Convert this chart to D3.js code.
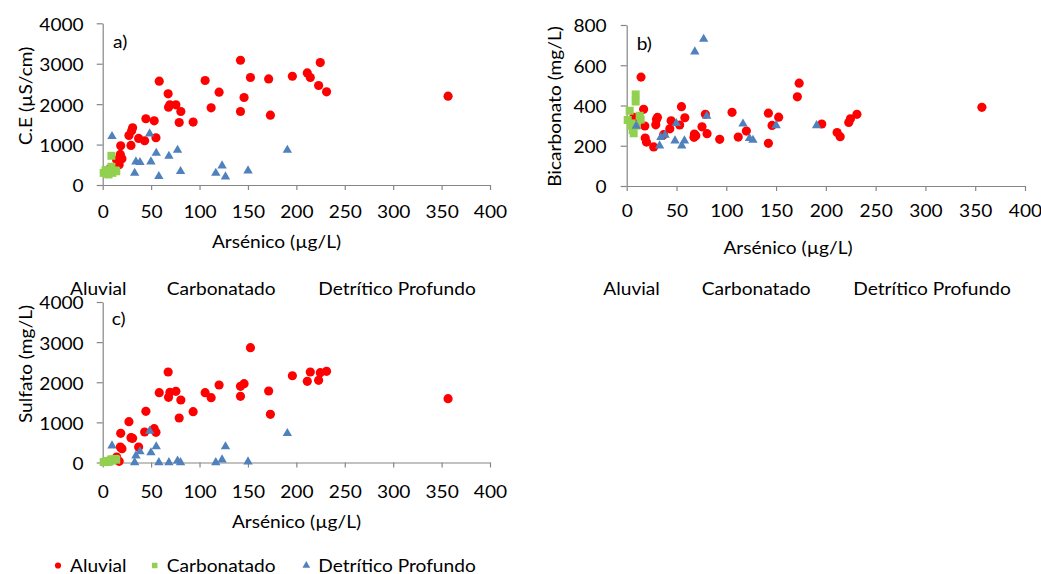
<!DOCTYPE html>
<html>
<head>
<meta charset="utf-8">
<script src="https://cdn.jsdelivr.net/npm/d3@7"></script>
<style>
  body { margin: 0; background: #fff; }
  svg { display: block; }
  text { font-family: Lato, "Open Sans", sans-serif; fill: #000; }
</style>
</head>
<body>
<svg id="chart" width="1041" height="574"></svg>
<script>
// ---- tick labels ----
const arsenicTicks = [0, 50, 100, 150, 200, 250, 300, 350, 400];
const ceTicks = [0, 1000, 2000, 3000, 4000];
const bicarbTicks = [0, 200, 400, 600, 800];
const sulfateTicks = [0, 1000, 2000, 3000, 4000];
const seriesNames = ["Aluvial", "Carbonatado", "Detrítico Profundo"];

// ---- Aluvial wells: arsenic (µg/L), conductivity (µS/cm), bicarbonate and sulfate (mg/L) ----
const aluvialAs   = [7, 14.4, 17, 18.2, 18.6, 19.9, 27.1, 29.2, 29.9, 30.9, 37.1, 43.3, 44.6, 53.2, 55, 58.4, 67.6, 68, 69.4, 75.6, 79, 80.7, 93.4, 105.8, 112, 120.2, 142.3, 142.3, 146, 152.6, 171.4, 173.2, 195.9, 211.3, 214.4, 223, 224.7, 231.2, 356.7];
const aluvialCE   = [395, 617, 502, 757, 971, 650, 1226, 979, 1341, 1416, 1152, 1095, 1638, 1588, 1169, 2568, 2255, 1926, 1983, 1983, 1547, 1819, 1556, 2585, 1909, 2296, 3086, 1819, 2165, 2659, 2625, 1728, 2691, 2773, 2659, 2461, 3029, 2304, 2198];
const aluvialHCO3 = [341, 541, 381, 298, 238, 218, 194, 304, 331, 341, 255, 284, 324, 303, 394, 339, 242, 258, 250, 294, 356, 260, 232, 366, 243, 273, 362, 212, 301, 342, 443, 511, 308, 266, 245, 316, 334, 356, 391];
const aluvialSO4  = [40, 137, 30, 386, 727, 344, 1017, 618, 610, 602, 386, 760, 1275, 843, 752, 1740, 2255, 1624, 1748, 1773, 1109, 1557, 1267, 1740, 1616, 1931, 1898, 1649, 1964, 2861, 1781, 1200, 2163, 2023, 2255, 2048, 2238, 2272, 1590];

// ---- Carbonatado wells ----
const carbAs   = [1, 3, 4, 5, 6, 7, 9, 9, 10, 13, 14];
const carbCE   = [300, 370, 280, 330, 260, 350, 723, 452, 300, 360, 340];
const carbHCO3 = [328, 374, 300, 311, 278, 262, 455, 420, 300, 349, 330];
const carbSO4  = [10, 20, 30, 15, 40, 25, 80, 60, 50, 90, 70];

// ---- Detrítico Profundo wells ----
const detAs   = [9.6, 33, 34.3, 38.5, 48.5, 49.8, 55.3, 58, 68.4, 77.3, 80.4, 116.8, 123.3, 126.8, 150.1, 190.7];
const detCE   = [1202, 296, 575, 560, 1267, 575, 790, 214, 716, 864, 338, 296, 477, 206, 354, 864];
const detHCO3 = [298, 200, 242, 253, 225, 311, 200, 225, 667, 730, 347, 309, 237, 228, 301, 301];
const detSO4  = [419, 0, 170, 270, 785, 245, 395, 0, 0, 40, 0, 0, 70, 395, 20, 726];

// ---- styling ----
const FS = 16.5;          // font size
const SX = 1.16;          // horizontal widening of the glyphs
const AXIS = "#868686";
const colors = ["#FF0000", "#92D050", "#4F81BD"];
const symbols = [d3.symbolCircle, d3.symbolSquare, d3.symbolTriangle];
const symbolSizes = [66, 64, 38];

const svg = d3.select("#chart");
svg.append("rect").attr("width", 1041).attr("height", 574).attr("fill", "#fff");

function label(parent, x, y, str, anchor = "start", rotate = 0) {
  return parent.append("text")
    .attr("transform", `translate(${x},${y}) rotate(${rotate}) scale(${SX},1)`)
    .attr("text-anchor", anchor)
    .style("font-size", FS + "px")
    .text(str);
}

function zip(xs, ys) { return xs.map((x, i) => ({ x, y: ys[i] })); }

function drawPanel(cfg) {
  const g = svg.append("g");
  const x = d3.scaleLinear().domain([0, 400]).range([cfg.left, cfg.right]);
  const y = d3.scaleLinear().domain([0, cfg.yMax]).range([cfg.bottom, cfg.top]);

  // axes
  const xa = g.append("g").attr("transform", `translate(0,${cfg.bottom})`)
    .call(d3.axisBottom(x).tickValues(arsenicTicks).tickSize(5).tickSizeOuter(0).tickFormat(d3.format("d")));
  const ya = g.append("g").attr("transform", `translate(${cfg.left},0)`)
    .call(d3.axisLeft(y).tickValues(cfg.yTicks).tickSize(6).tickSizeOuter(0).tickFormat(d3.format("d")));
  [xa, ya].forEach(a => {
    a.select(".domain").attr("stroke", AXIS).attr("stroke-width", 1.2);
    a.selectAll(".tick line").attr("stroke", AXIS).attr("stroke-width", 1.2);
    a.selectAll("text").attr("fill", "#000").style("font-size", FS + "px")
      .attr("font-family", "Lato, 'Open Sans', sans-serif");
  });
  xa.selectAll("text").attr("y", null).attr("dy", null)
    .attr("transform", `translate(0,${cfg.xLabelDy}) scale(${SX},1)`);
  ya.selectAll("text").attr("x", -cfg.yLabelGap / SX).attr("dy", "0.42em")
    .attr("transform", `scale(${SX},1)`);

  // series, drawn Aluvial first and Detrítico Profundo on top
  cfg.series.forEach((pts, si) => {
    g.append("g").selectAll("path").data(pts).join("path")
      .attr("transform", d => `translate(${x(d.x)},${y(d.y)})`)
      .attr("d", d3.symbol().type(symbols[si]).size(symbolSizes[si]))
      .attr("fill", colors[si]);
  });

  // panel letter
  label(g, cfg.tagX, cfg.tagY, cfg.tag);

  // axis titles
  label(g, cfg.xTitleX, cfg.xTitleY, "Arsénico (µg/L)", "middle");
  label(g, cfg.yTitleX, cfg.yTitleY, cfg.yTitle, "middle", -90);

  // legend
  cfg.legendX.forEach((lx, i) => {
    if (cfg.legendMarkers) {
      g.append("path")
        .attr("transform", `translate(${lx - 12},${cfg.legendY - 6})`)
        .attr("d", d3.symbol().type(symbols[i]).size(i === 2 ? 26 : 30))
        .attr("fill", colors[i]);
    }
    label(g, lx, cfg.legendY, seriesNames[i]);
  });
}

drawPanel({
  tag: "a)", tagX: 113, tagY: 48,
  left: 102.7, right: 490, top: 23.3, bottom: 185,
  yMax: 4000, yTicks: ceTicks, yTitle: "C.E (µS/cm)",
  yLabelGap: 19, xLabelDy: 33,
  xTitleX: 276.5, xTitleY: 248, yTitleX: 32, yTitleY: 96,
  legendX: [70, 166.7, 318.3], legendY: 295, legendMarkers: false,
  series: [zip(aluvialAs, aluvialCE), zip(carbAs, carbCE), zip(detAs, detCE)]
});

drawPanel({
  tag: "b)", tagX: 636.7, tagY: 50,
  left: 626.7, right: 1025, top: 25, bottom: 186,
  yMax: 800, yTicks: bicarbTicks, yTitle: "Bicarbonato (mg/L)",
  yLabelGap: 20, xLabelDy: 31,
  xTitleX: 788, xTitleY: 254, yTitleX: 561, yTitleY: 106.5,
  legendX: [603.3, 701.7, 853.3], legendY: 295, legendMarkers: false,
  series: [zip(aluvialAs, aluvialHCO3), zip(carbAs, carbHCO3), zip(detAs, detHCO3)]
});

drawPanel({
  tag: "c)", tagX: 111.7, tagY: 325,
  left: 102.7, right: 490, top: 302, bottom: 462.5,
  yMax: 4000, yTicks: sulfateTicks, yTitle: "Sulfato (mg/L)",
  yLabelGap: 19, xLabelDy: 35,
  xTitleX: 296.5, xTitleY: 528, yTitleX: 32, yTitleY: 364,
  legendX: [70, 166.7, 318.3], legendY: 571.5, legendMarkers: true,
  series: [zip(aluvialAs, aluvialSO4), zip(carbAs, carbSO4), zip(detAs, detSO4)]
});
</script>
</body>
</html>
